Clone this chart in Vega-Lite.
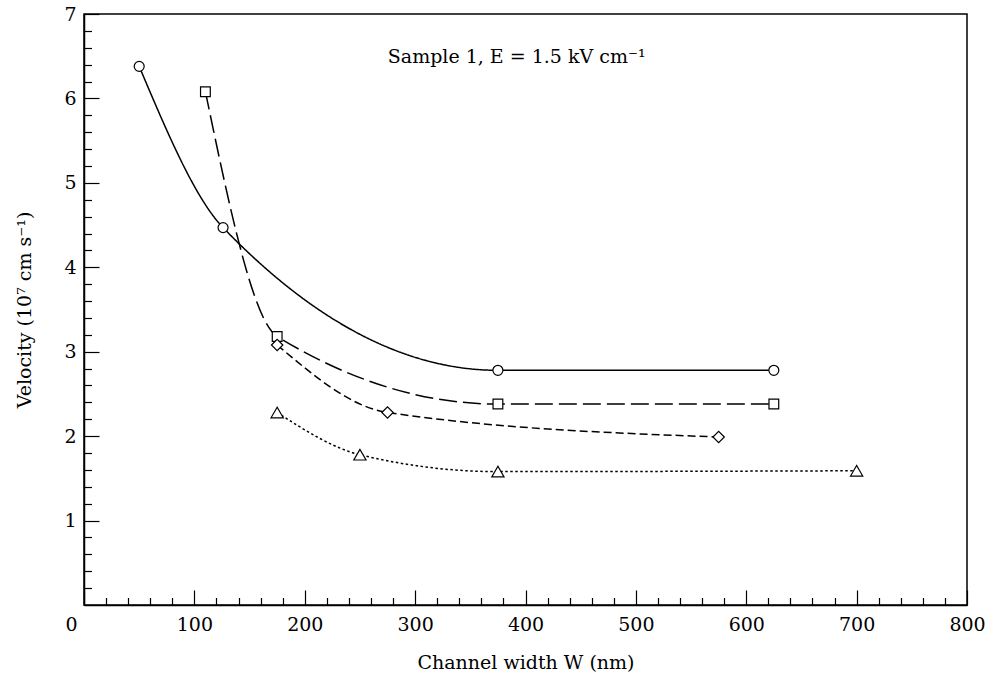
{
  "$schema": "https://vega.github.io/schema/vega-lite/v6.json",
  "width": 883,
  "height": 591,
  "autosize": {"type": "none"},
  "padding": {"left": 84, "top": 14, "right": 20, "bottom": 70},
  "background": "white",
  "config": {
    "view": {"stroke": "black", "strokeWidth": 1.5},
    "axis": {"grid": false, "domainColor": "black", "domainWidth": 1.5, "tickColor": "black", "tickWidth": 1.2, "labelFont": "DejaVu Serif", "labelFontSize": 19, "labelColor": "black", "titleFont": "DejaVu Serif", "titleFontSize": 19, "titleFontWeight": "normal", "titleColor": "black", "labelFlush": false, "labelOverlap": false}
  },
  "datasets": {
    "pts": [
      {"series": "circle", "W": 50, "v": 6.38},
      {"series": "circle", "W": 126, "v": 4.47},
      {"series": "circle", "W": 375, "v": 2.78},
      {"series": "circle", "W": 625, "v": 2.78},
      {"series": "square", "W": 110, "v": 6.08},
      {"series": "square", "W": 175, "v": 3.18},
      {"series": "square", "W": 375, "v": 2.38},
      {"series": "square", "W": 625, "v": 2.38},
      {"series": "diamond", "W": 175, "v": 3.08},
      {"series": "diamond", "W": 275, "v": 2.28},
      {"series": "diamond", "W": 575, "v": 1.99},
      {"series": "triangle", "W": 175, "v": 2.28},
      {"series": "triangle", "W": 250, "v": 1.78},
      {"series": "triangle", "W": 375, "v": 1.58},
      {"series": "triangle", "W": 700, "v": 1.59}
    ],
    "note": [
      {"W": 392, "v": 6.42, "label": "Sample 1, E = 1.5 kV cm⁻¹"}
    ]
  },
  "resolve": {"axis": {"x": "independent", "y": "independent"}},
  "layer": [
    {
      "data": {"name": "pts"},
      "mark": {"type": "line", "interpolate": "monotone", "color": "black", "strokeWidth": 1.5},
      "encoding": {
        "x": {"field": "W", "type": "quantitative", "scale": {"domain": [0, 800], "nice": false},
          "axis": {"orient": "bottom", "values": [0, 100, 200, 300, 400, 500, 600, 700, 800], "tickSize": -15, "labelPadding": 25, "labelOffset": {"condition": {"test": "datum.value === 0", "value": -13}, "value": 0}, "title": "Channel width W (nm)", "titlePadding": 19}},
        "y": {"field": "v", "type": "quantitative", "scale": {"domain": [0, 7], "nice": false},
          "axis": {"orient": "left", "values": [1, 2, 3, 4, 5, 6, 7], "tickSize": -15, "labelPadding": 23, "title": "Velocity (10⁷ cm s⁻¹)", "titlePadding": 29}},
        "strokeDash": {"field": "series", "type": "nominal",
          "scale": {"domain": ["circle", "square", "diamond", "triangle"], "range": [[1, 0], [18, 6], [8, 4], [2.5, 2.5]]},
          "legend": null}
      }
    },
    {
      "data": {"name": "pts"},
      "mark": {"type": "point", "filled": true, "fill": "white", "stroke": "black", "strokeWidth": 1.2, "opacity": 1},
      "encoding": {
        "x": {"field": "W", "type": "quantitative",
          "axis": {"orient": "bottom", "values": [20, 40, 60, 80, 120, 140, 160, 180, 220, 240, 260, 280, 320, 340, 360, 380, 420, 440, 460, 480, 520, 540, 560, 580, 620, 640, 660, 680, 720, 740, 760, 780], "tickSize": -7.5, "labels": false, "domain": false, "title": null}},
        "y": {"field": "v", "type": "quantitative",
          "axis": {"orient": "left", "values": [0.2, 0.4, 0.6, 0.8, 1.2, 1.4, 1.6, 1.8, 2.2, 2.4, 2.6, 2.8, 3.2, 3.4, 3.6, 3.8, 4.2, 4.4, 4.6, 4.8, 5.2, 5.4, 5.6, 5.8, 6.2, 6.4, 6.6, 6.8], "tickSize": -7.5, "labels": false, "domain": false, "title": null}},
        "shape": {"field": "series", "type": "nominal",
          "scale": {"domain": ["circle", "square", "diamond", "triangle"], "range": ["circle", "square", "diamond", "triangle-up"]},
          "legend": null},
        "size": {"field": "series", "type": "nominal",
          "scale": {"type": "ordinal", "domain": ["circle", "square", "diamond", "triangle"], "range": [100, 95, 130, 150]},
          "legend": null}
      }
    },
    {
      "data": {"name": "note"},
      "mark": {"type": "text", "font": "DejaVu Serif", "fontSize": 19, "align": "center", "baseline": "alphabetic", "color": "black"},
      "encoding": {
        "x": {"field": "W", "type": "quantitative", "axis": null},
        "y": {"field": "v", "type": "quantitative", "axis": null},
        "text": {"field": "label"}
      }
    }
  ]
}
